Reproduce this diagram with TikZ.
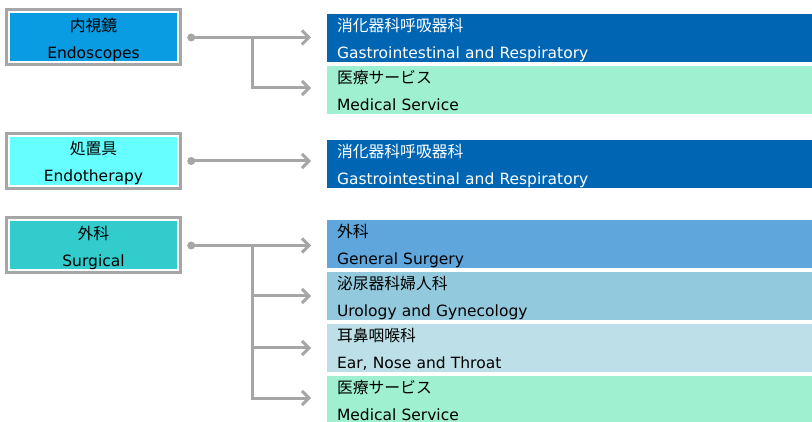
\documentclass[tikz,border=0pt]{standalone}
\usepackage{fontspec}
\setmainfont{DejaVu Sans}
\newfontfamily\jp{Noto Sans CJK JP}[Scale=1.02]
\usepackage{tikz}
\usetikzlibrary{positioning, arrows.meta}
\definecolor{framegray}{HTML}{A6A6A6}
\definecolor{linegray}{HTML}{A6A6A6}
\definecolor{endoblue}{HTML}{0A9CE2}
\definecolor{endocyan}{HTML}{66FFFF}
\definecolor{surgteal}{HTML}{33CCCC}
\definecolor{gastroblue}{HTML}{0066B3}
\definecolor{servicemint}{HTML}{9FF0D1}
\definecolor{generalblue}{HTML}{5EA6DC}
\definecolor{urologyblue}{HTML}{92C9DC}
\definecolor{entblue}{HTML}{BDE0E8}
\tikzstyle{group} = [rectangle, minimum width=169pt, minimum height=50pt, text width=165pt, align=center, inner sep=0pt, outer sep=0pt, text height=19pt, text depth=31pt, draw=white, line width=2pt, preaction={draw=framegray, line width=8pt}, font=\fontsize{15.5}{27}\selectfont]
\tikzstyle{field} = [rectangle, minimum width=485pt, minimum height=48pt, text width=465pt, inner xsep=10pt, inner ysep=0pt, outer sep=0pt, text height=17.5pt, text depth=30.5pt, align=left, anchor=north west, font=\fontsize{15.5}{27}\selectfont]
\tikzstyle{dot} = [circle, fill=linegray, inner sep=0pt, minimum size=8pt]
\tikzstyle{arrow} = [line width=3pt, draw=linegray, -{Straight Barb[length=7pt,width=14pt]}, shorten >=16pt]

\begin{document}
\begin{tikzpicture}[x=1pt, y=1pt]
    \useasboundingbox (0,0) rectangle (812,-422);
    \node (endoscopes) [group, fill=endoblue] at (93.5,-37.5) {{\jp 内視鏡}\\Endoscopes};
    \node (endotherapy) [group, fill=endocyan] at (93.5,-161) {{\jp 処置具}\\Endotherapy};
    \node (surgical) [group, fill=surgteal] at (93.5,-245.5) {{\jp 外科}\\Surgical};

    \node (gastro1) [field, fill=gastroblue, text=white] at (327,-14) {{\jp 消化器科呼吸器科}\\Gastrointestinal and Respiratory};
    \node (service1) [field, fill=servicemint, below=4pt of gastro1] {{\jp 医療サービス}\\Medical Service};
    \node (gastro2) [field, fill=gastroblue, text=white] at (327,-140) {{\jp 消化器科呼吸器科}\\Gastrointestinal and Respiratory};
    \node (general) [field, fill=generalblue] at (327,-220) {{\jp 外科}\\General Surgery};
    \node (urology) [field, fill=urologyblue, below=4pt of general] {{\jp 泌尿器科婦人科}\\Urology and Gynecology};
    \node (ent) [field, fill=entblue, below=4pt of urology] {{\jp 耳鼻咽喉科}\\Ear, Nose and Throat};
    \node (service2) [field, fill=servicemint, below=4pt of ent] {{\jp 医療サービス}\\Medical Service};

    \node (dot1) [dot, right=9pt of endoscopes.east] {};
    \node (dot2) [dot, right=9pt of endotherapy.east] {};
    \node (dot3) [dot, right=9pt of surgical.east] {};
    \coordinate (fork1) at ([xshift=74pt]endoscopes.east);
    \coordinate (fork3) at ([xshift=74pt]surgical.east);

    \draw [arrow] (dot1.center) -- (dot1 -| gastro1.west);
    \draw [arrow] (fork1) |- ([yshift=2pt]service1.west);
    \draw [arrow] (dot2.center) -- (dot2 -| gastro2.west);
    \draw [arrow] (dot3.center) -- (dot3 -| general.west);
    \draw [arrow] (fork3) |- (urology.west);
    \draw [arrow] (fork3) |- (ent.west);
    \draw [arrow] (fork3) |- ([yshift=2pt]service2.west);
\end{tikzpicture}
\end{document}
